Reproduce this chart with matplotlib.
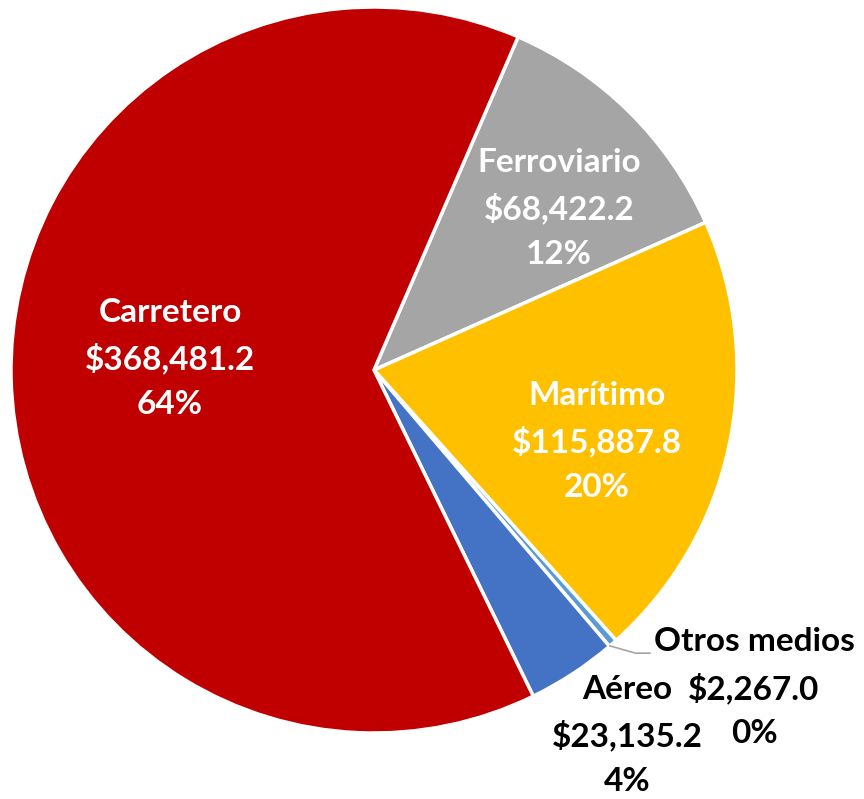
import matplotlib.pyplot as plt

# Data (millones de dólares por modo de transporte)
modos = ["Ferroviario", "Marítimo", "Otros medios", "Aéreo", "Carretero"]
valores = [68422.2, 115887.8, 2267.0, 23135.2, 368481.2]
colores = ["#A5A5A5", "#FFC000", "#5B9BD5", "#4472C4", "#C00000"]
color_texto = ["white", "white", "black", "black", "white"]
# label centres in pie units (radius = 1)
pos_texto = [(0.51, 0.446), (0.614, -0.196), (1.047, -0.876), (0.697, -1.006), (-0.562, 0.033)]

plt.rcParams['font.family'] = ['Lato', 'DejaVu Sans']

fig = plt.figure(figsize=(8.64, 7.99), dpi=100)
ax = fig.add_axes([11 / 864, (799 - 733) / 799, 726 / 864, 726 / 799])

total = sum(valores)
wedges, _ = ax.pie(valores, colors=colores, startangle=66.6, counterclock=False,
                   radius=1, wedgeprops=dict(edgecolor="white", linewidth=2.5))
ax.set_xlim(-1, 1)
ax.set_ylim(-1, 1)
ax.axis("off")

paso = 46 / 363  # line spacing in pie units
for nombre, v, c, (x, y) in zip(modos, valores, color_texto, pos_texto):
    lineas = [nombre, f"${v:,.1f}", f"{v / total * 100:.0f}%"]
    for i, linea in enumerate(lineas):
        ax.text(x, y + (1 - i) * paso, linea, ha="center", va="center", color=c,
                fontsize=24, fontweight="bold", clip_on=False)

# leader line for the small slice
ax.plot([0.65, 0.72, 0.76], [-0.76, -0.78, -0.78], color="#A5A5A5",
        linewidth=1.2, clip_on=False)

fig.savefig("out.png", dpi=100)
